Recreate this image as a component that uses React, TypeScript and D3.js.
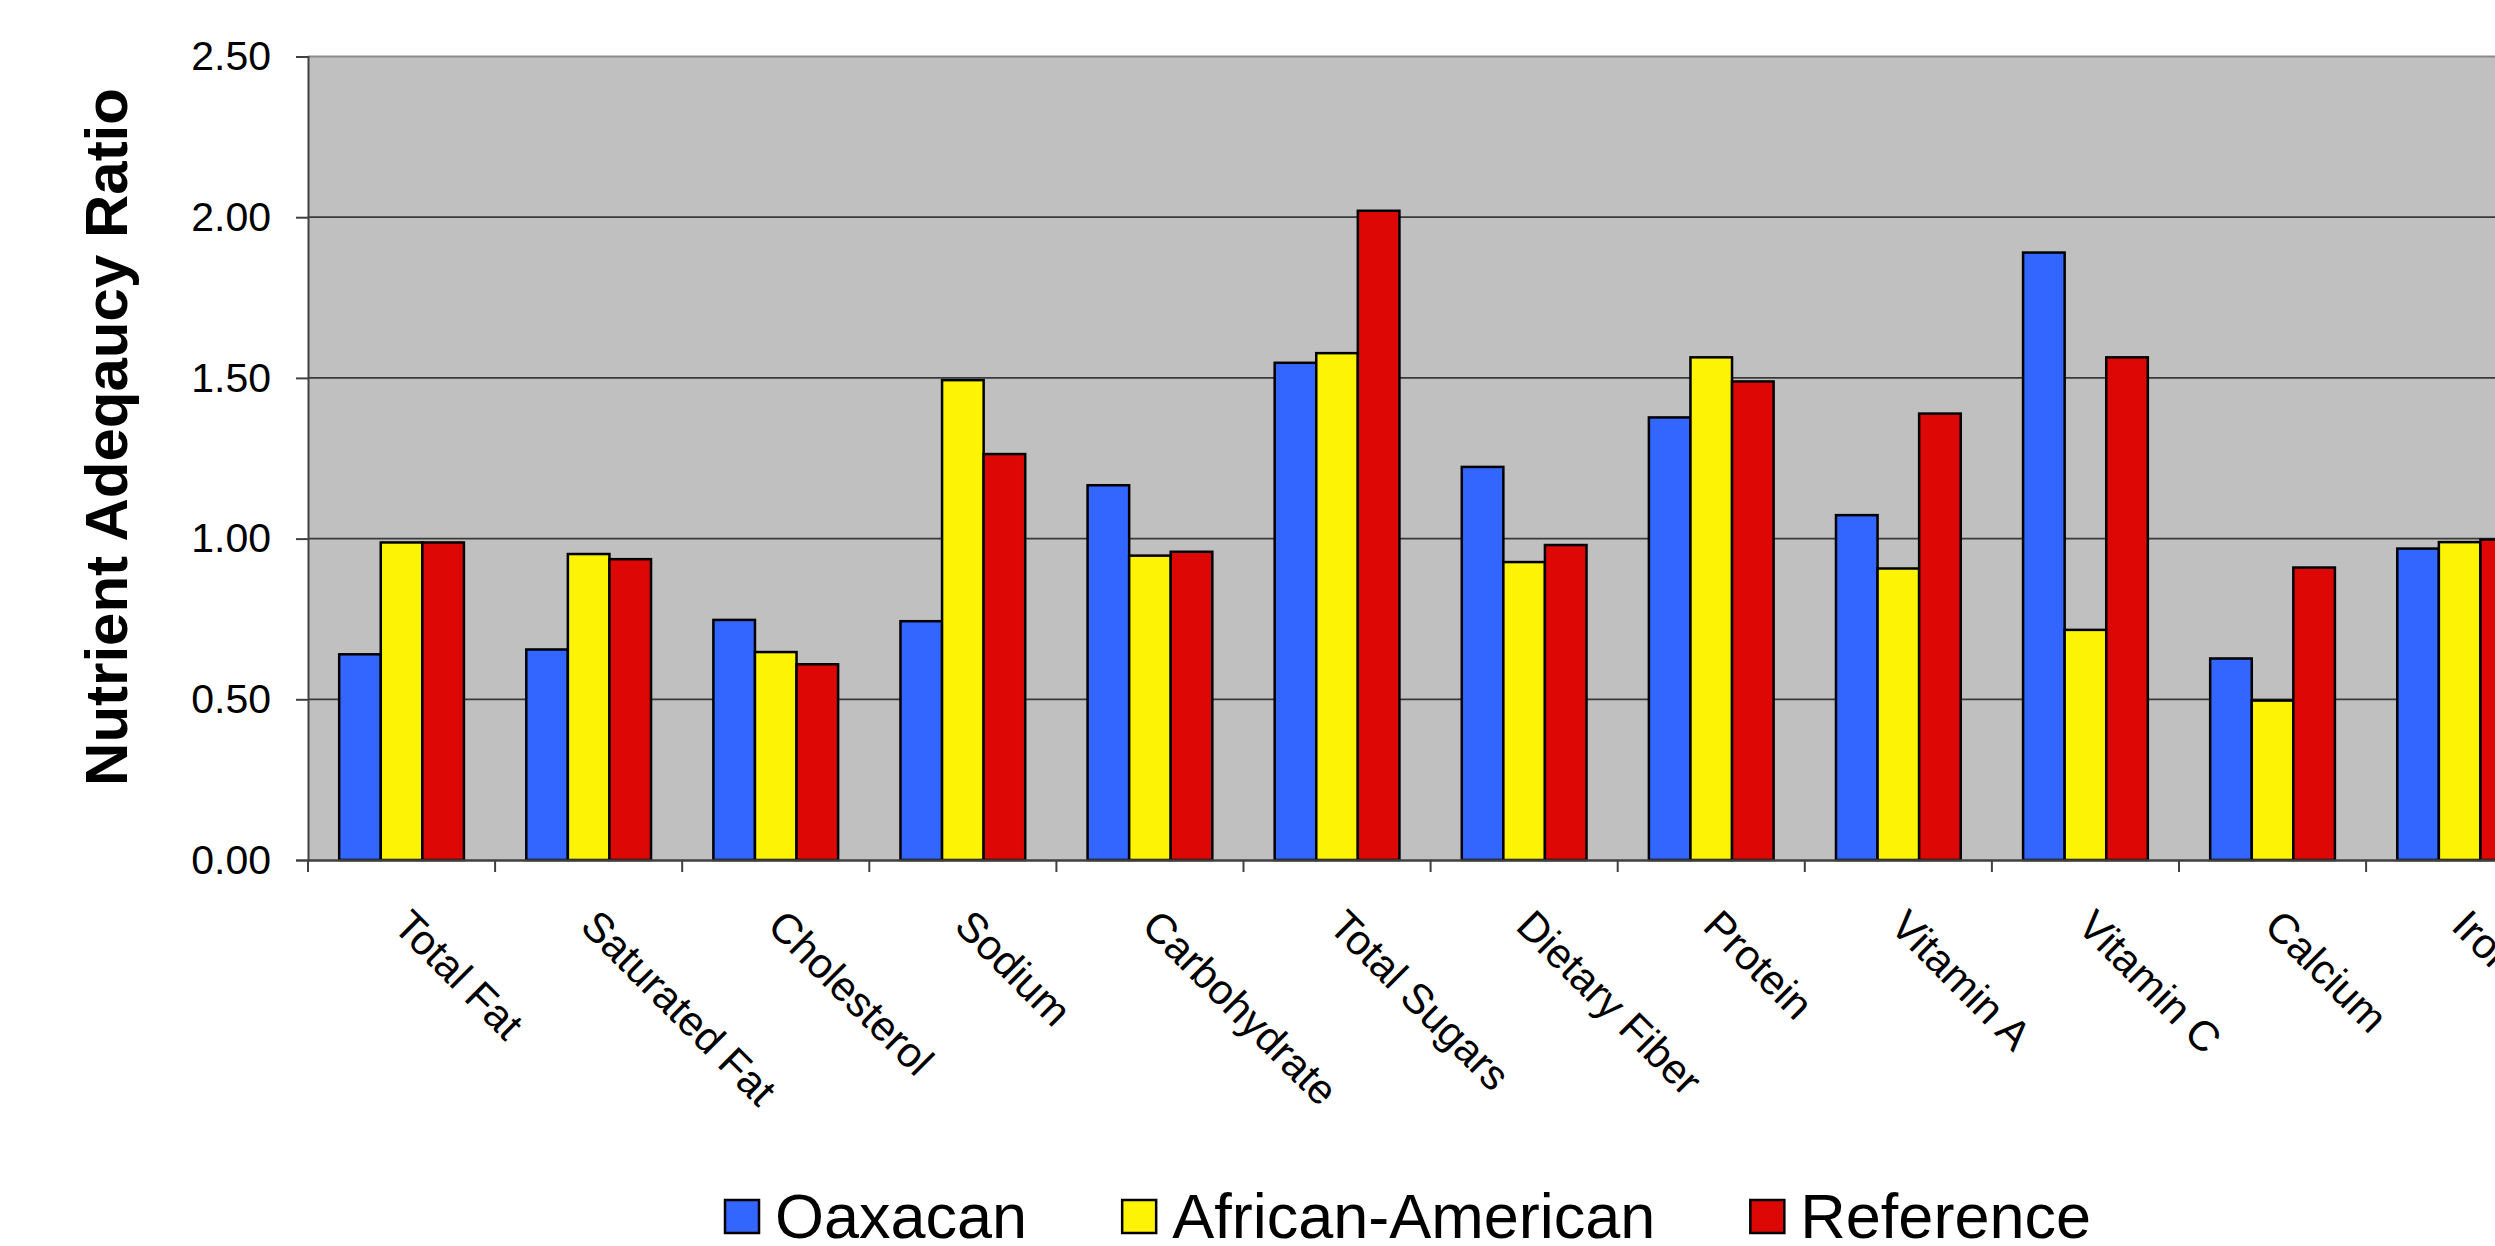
import React, { useEffect, useRef } from 'react';
import * as d3 from 'd3';

const categories = ['Total Fat', 'Saturated Fat', 'Cholesterol', 'Sodium', 'Carbohydrate', 'Total Sugars', 'Dietary Fiber', 'Protein', 'Vitamin A', 'Vitamin C', 'Calcium', 'Iron'];
const seriesNames = ['Oaxacan', 'African-American', 'Reference'];
const oaxacan = [0.64, 0.655, 0.747, 0.743, 1.166, 1.547, 1.223, 1.377, 1.073, 1.89, 0.627, 0.969];
const africanAmerican = [0.988, 0.952, 0.647, 1.493, 0.947, 1.577, 0.927, 1.564, 0.907, 0.716, 0.496, 0.989];
const referenceVals = [0.988, 0.936, 0.609, 1.263, 0.959, 2.02, 0.98, 1.489, 1.389, 1.564, 0.91, 0.997];
const yTicks = [0, 0.5, 1, 1.5, 2, 2.5];
const seriesColors = ['#3366FF', '#FCF305', '#DD0806'];
const yTitle = 'Nutrient Adeqaucy Ratio';

const W = 2495;
const H = 1246;

export default function App() {
  const ref = useRef<SVGSVGElement>(null);

  useEffect(() => {
    const svg = d3.select(ref.current);
    svg.selectAll('*').remove();

    const left = 308;
    const top = 56.5;
    const bottom = 860;
    const catW = 187.1;
    const right = left + catW * categories.length;

    const x = d3.scaleBand<string>().domain(categories).range([left, right]).paddingInner(0).paddingOuter(0);
    const y = d3.scaleLinear().domain([0, 2.5]).range([bottom, top]);
    const gap = 1.5;
    const x1 = d3.scaleBand<number>().domain([0, 1, 2]).range([0, x.bandwidth()]).paddingInner(0).paddingOuter(gap / 2);

    const font = 'Liberation Sans, Arial, Helvetica, sans-serif';

    // plot background
    svg.append('rect').attr('x', left).attr('y', top).attr('width', right - left + 200).attr('height', bottom - top).attr('fill', '#C0C0C0');
    // top border
    svg.append('line').attr('x1', left).attr('x2', W + 10).attr('y1', top).attr('y2', top).attr('stroke', '#8c8c8c').attr('stroke-width', 2);

    // gridlines
    svg.append('g').selectAll('line').data(yTicks.filter(t => t > 0 && t < 2.5)).join('line')
      .attr('x1', left).attr('x2', W + 10)
      .attr('y1', d => y(d)).attr('y2', d => y(d))
      .attr('stroke', '#3a3a3a').attr('stroke-width', 1.8);

    // bars
    const series = [oaxacan, africanAmerican, referenceVals];
    series.forEach((vals, si) => {
      svg.append('g').selectAll('rect').data(vals).join('rect')
        .attr('x', (d, i) => (x(categories[i]) as number) + (x1(si) as number))
        .attr('y', d => y(d))
        .attr('width', x1.bandwidth())
        .attr('height', d => y(0) - y(d))
        .attr('fill', seriesColors[si])
        .attr('stroke', '#000')
        .attr('stroke-width', 2.5);
    });

    // y axis
    const yAxis = d3.axisLeft(y).tickValues(yTicks).tickFormat(d3.format('.2f')).tickSize(12).tickPadding(25);
    const gy = svg.append('g').attr('transform', `translate(${left},0)`).call(yAxis);
    gy.select('.domain').attr('stroke', '#404040').attr('stroke-width', 2);
    gy.selectAll('.tick line').attr('stroke', '#404040').attr('stroke-width', 2);
    gy.selectAll('.tick text').attr('font-family', font).attr('font-size', 41).attr('fill', '#000');

    // x axis
    const xAxis = d3.axisBottom(x).tickSize(0).tickFormat(() => '');
    const gx = svg.append('g').attr('transform', `translate(0,${bottom})`).call(xAxis);
    gx.select('.domain').attr('stroke', '#404040').attr('stroke-width', 2.5);
    // category boundary ticks
    const bounds = categories.map(c => x(c) as number).concat([right]);
    svg.append('g').selectAll('line').data(bounds).join('line')
      .attr('x1', d => d).attr('x2', d => d)
      .attr('y1', bottom).attr('y2', bottom + 12)
      .attr('stroke', '#404040').attr('stroke-width', 2);

    // category labels
    svg.append('g').selectAll('text').data(categories).join('text')
      .attr('transform', d => `translate(${(x(d) as number) + x.bandwidth() / 2 - 10},${928}) rotate(45)`)
      .attr('font-family', font).attr('font-size', 42).attr('fill', '#000')
      .attr('text-anchor', 'start')
      .text(d => d);

    // y title
    svg.append('text')
      .attr('transform', `translate(127,437) rotate(-90)`)
      .attr('font-family', font).attr('font-size', 60).attr('font-weight', 'bold')
      .attr('text-anchor', 'middle').attr('fill', '#000')
      .text(yTitle);

    // legend
    const lg = svg.append('g');
    const items = seriesNames.map((name, i) => {
      const g = lg.append('g');
      g.append('rect').attr('x', 0).attr('y', 1200).attr('width', 34).attr('height', 33)
        .attr('fill', seriesColors[i]).attr('stroke', '#000').attr('stroke-width', 2.5);
      const t = g.append('text').attr('x', 50).attr('y', 1238)
        .attr('font-family', font).attr('font-size', 63).attr('fill', '#000').text(name);
      const tw = (t.node() as SVGTextElement).getComputedTextLength();
      return { g, w: 50 + tw };
    });
    const itemGap = 95;
    const total = items.reduce((s, it) => s + it.w, 0) + itemGap * (items.length - 1);
    let cx = 1408 - total / 2;
    items.forEach(it => {
      it.g.attr('transform', `translate(${cx},0)`);
      cx += it.w + itemGap;
    });
  }, []);

  return (
    <svg ref={ref} width={W} height={H} style={{ position: 'absolute', left: 0, top: 0, background: '#fff' }} />
  );
}
